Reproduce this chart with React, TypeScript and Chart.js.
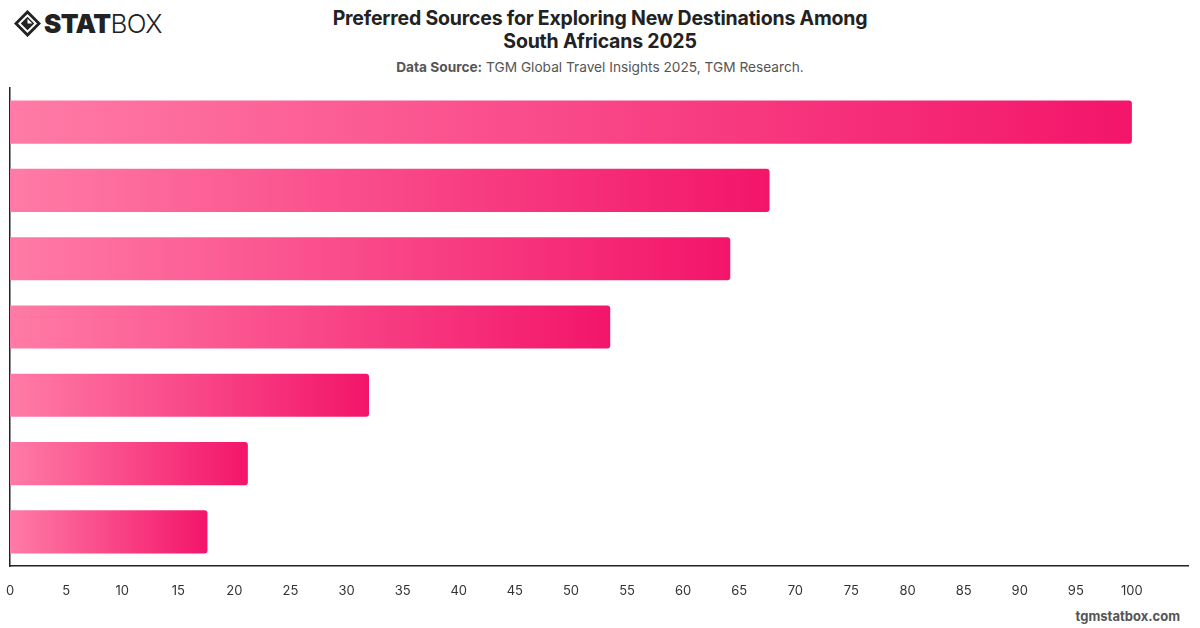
import React, { useEffect, useRef } from "react";
import { Chart, registerables } from "chart.js";

Chart.register(...registerables);

const categories: string[] = [
  "Online travel sites",
  "Social media",
  "Friends and family",
  "Search engines",
  "Travel agents",
  "Travel magazines",
  "TV and radio",
];
const shares: number[] = [100, 67.7, 64.2, 53.5, 32, 21.2, 17.6];
const axisMax = 105;
const tickLimit = 100;

const FONT = "Inter, 'Helvetica Neue', Arial, sans-serif";

function Logo() {
  return (
    <div style={{ position: "absolute", left: 14, top: 8, display: "flex", alignItems: "center" }}>
      <svg width="27" height="27" viewBox="0 0 28 28">
        <path d="M14 2 L26 14 L14 26 L2 14 Z" fill="none" stroke="#222" strokeWidth="3" />
        <path d="M14 7 L21 14 L14 21 L7 14 Z" fill="#222" />
        <path d="M14 9 L19 14 L14 14 Z" fill="#fff" />
      </svg>
      <span style={{ fontFamily: FONT, fontWeight: 900, fontSize: 26, color: "#222", marginLeft: 3, letterSpacing: -0.6 }}>
        STAT
      </span>
      <span style={{ fontFamily: FONT, fontWeight: 300, fontSize: 26, color: "#222", letterSpacing: -0.6 }}>BOX</span>
    </div>
  );
}

export default function App() {
  const canvasRef = useRef<HTMLCanvasElement | null>(null);

  useEffect(() => {
    const canvas = canvasRef.current;
    if (!canvas) return;
    const chart = new Chart(canvas, {
      type: "bar",
      data: {
        labels: categories,
        datasets: [
          {
            data: shares,
            backgroundColor: (ctx: any) => {
              const c = ctx.chart;
              const area = c.chartArea;
              if (!area || ctx.dataIndex === undefined) return "#f5176b";
              const xs = c.scales.x;
              const x0 = xs.getPixelForValue(0);
              const x1 = xs.getPixelForValue(shares[ctx.dataIndex]);
              const g = c.ctx.createLinearGradient(x0, 0, Math.max(x1, x0 + 1), 0);
              g.addColorStop(0, "#ff7ba6");
              g.addColorStop(1, "#f3156a");
              return g;
            },
            borderRadius: { topRight: 3, bottomRight: 3, topLeft: 0, bottomLeft: 0 },
            borderSkipped: "start",
            categoryPercentage: 0.8,
            barPercentage: 0.79,
          },
        ],
      },
      options: {
        indexAxis: "y",
        animation: false,
        responsive: false,
        maintainAspectRatio: false,
        layout: { padding: { left: 10, right: 12, top: 8, bottom: 0 } },
        plugins: {
          legend: { display: false },
          tooltip: { enabled: false },
        },
        scales: {
          x: {
            min: 0,
            max: axisMax,
            afterBuildTicks: (axis: any) => {
              axis.ticks = axis.ticks.filter((t: any) => t.value <= tickLimit);
            },
            afterFit: (axis: any) => {
              axis.height = 36;
              axis.paddingLeft = 0;
              axis.paddingRight = 0;
            },
            ticks: {
              stepSize: 5,
              color: "#333",
              font: { family: FONT, size: 13 },
              padding: 17,
              maxRotation: 0,
              autoSkip: false,
            },
            grid: { display: false, drawTicks: false },
            border: { display: true, color: "#222", width: 1.5 },
          },
          y: {
            afterFit: (axis: any) => {
              axis.width = 0;
            },
            ticks: { display: false },
            grid: { display: false, drawTicks: false },
            border: { display: true, color: "#222", width: 1.5 },
          },
        },
      },
    });
    return () => chart.destroy();
  }, []);

  return (
    <div style={{ position: "fixed", left: 0, top: 0, width: 1200, height: 628, background: "#fff", overflow: "hidden" }}>
      <Logo />
      <div
        style={{
          position: "absolute",
          left: 0,
          width: 1200,
          top: 7,
          textAlign: "center",
          fontFamily: FONT,
          fontWeight: 700,
          fontSize: 19.5,
          lineHeight: "23px",
          color: "#222",
          letterSpacing: -0.2,
        }}
      >
        Preferred Sources for Exploring New Destinations Among
        <br />
        South Africans 2025
      </div>
      <div
        style={{
          position: "absolute",
          left: 0,
          width: 1200,
          top: 59,
          textAlign: "center",
          fontFamily: FONT,
          fontSize: 13.7,
          color: "#555",
        }}
      >
        <b style={{ color: "#555" }}>Data Source:</b> TGM Global Travel Insights 2025, TGM Research.
      </div>
      <canvas
        ref={canvasRef}
        width={1200}
        height={522}
        style={{ position: "absolute", left: 0, top: 80, width: 1200, height: 522 }}
      />
      <div
        style={{
          position: "absolute",
          right: 20,
          top: 608,
          fontFamily: FONT,
          fontWeight: 700,
          fontSize: 13,
          color: "#555",
        }}
      >
        tgmstatbox.com
      </div>
    </div>
  );
}
